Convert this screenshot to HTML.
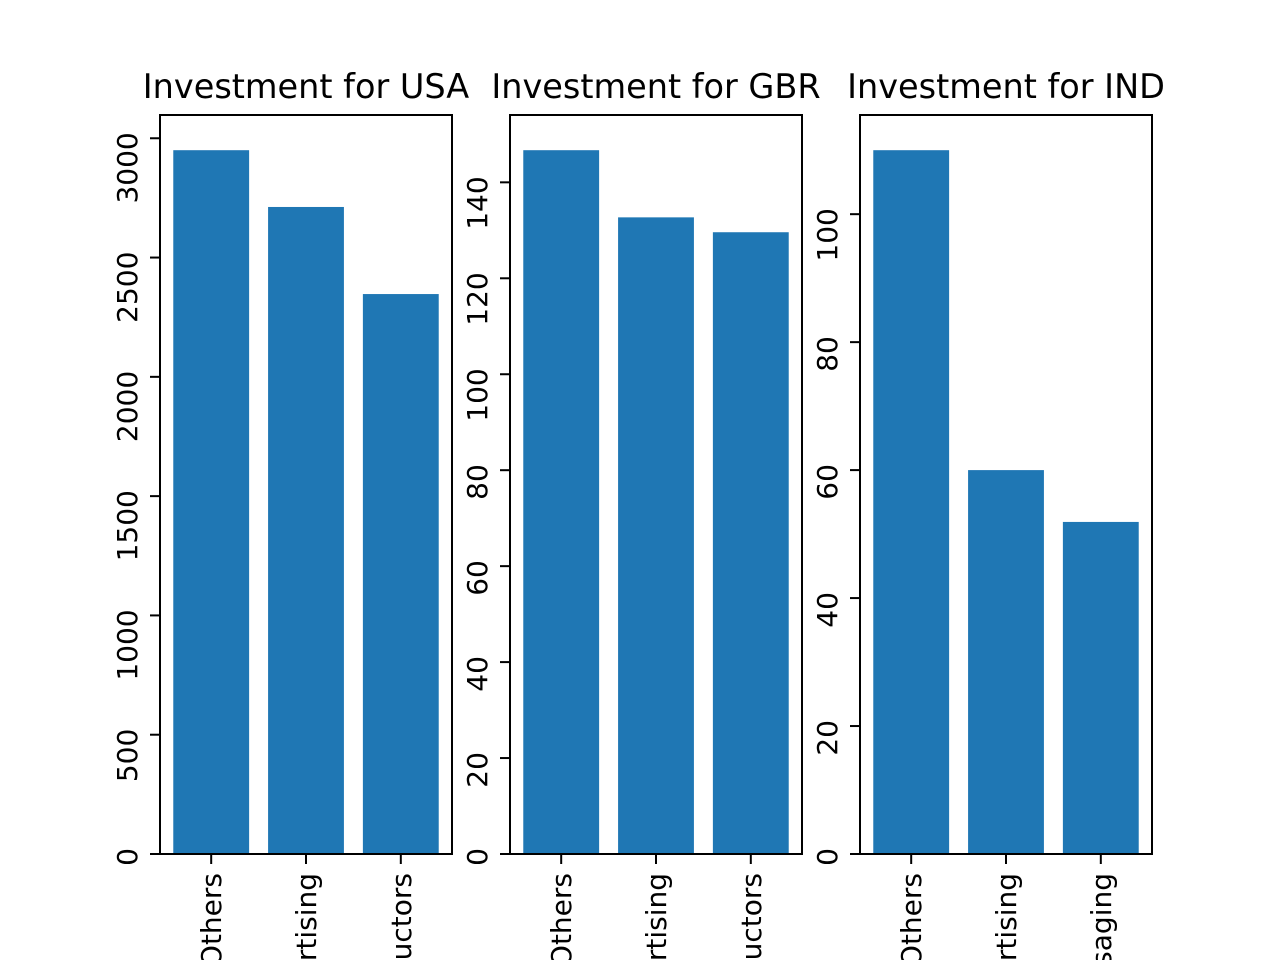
<!DOCTYPE html>
<html><head><meta charset="utf-8"><style>html,body{margin:0;background:#fff;overflow:hidden;width:1280px;height:960px}svg{display:block}</style></head>
<body>
<svg id="chart" width="1280" height="960" xmlns="http://www.w3.org/2000/svg" font-family="'DejaVu Sans','Liberation Sans',sans-serif"></svg>
<script>
const countries = ["USA", "GBR", "IND"];
const usaCategories = ["Others", "Advertising", "Semiconductors"];
const usaValues = [2950, 2712, 2347];
const usaTicks = [0, 500, 1000, 1500, 2000, 2500, 3000];
const gbrCategories = ["Others", "Advertising", "Semiconductors"];
const gbrValues = [146.7, 132.7, 129.6];
const gbrTicks = [0, 20, 40, 60, 80, 100, 120, 140];
const indCategories = ["Others", "Advertising", "Messaging"];
const indValues = [110, 60, 51.9];
const indTicks = [0, 20, 40, 60, 80, 100];

const svgEl = document.getElementById('chart');
const NS = 'http://www.w3.org/2000/svg';
function mk(tag, attrs, parent) { const e = document.createElementNS(NS, tag); for (const k in attrs) e.setAttribute(k, attrs[k]); parent.appendChild(e); return e; }

const panels = [
  {left:160, cats:usaCategories, vals:usaValues, ticks:usaTicks},
  {left:510, cats:gbrCategories, vals:gbrValues, ticks:gbrTicks},
  {left:860, cats:indCategories, vals:indValues, ticks:indTicks}
];
const plotTop = 115, plotBottom = 854, plotW = 292;
panels.forEach((p, pi) => {
  const g = mk('g', {}, svgEl);
  
  
  const ymax = Math.max(...p.vals) * 1.05;
  const y = v => plotBottom - v / ymax * (plotBottom - plotTop);
  const n = p.cats.length;
  const x0 = -0.4 - 0.05 * (n - 1 + 0.8), x1 = n - 1 + 0.4 + 0.05 * (n - 1 + 0.8);
  const x = v => p.left + (v - x0) / (x1 - x0) * plotW;
  const bw = 0.8 / (x1 - x0) * plotW;
  p.vals.forEach((v, i) => {
    const r = mk('rect', {x: x(i) - bw / 2, y: y(v), width: bw, height: plotBottom - y(v), fill: '#1f77b4'}, g);
    
    
    mk('line', {x1: x(i), x2: x(i), y1: plotBottom, y2: plotBottom + 10, stroke: '#000', 'stroke-width': 2}, g);
    const t = mk('text', {transform: `translate(${x(i) + 10},${plotBottom + 19}) rotate(-90)`, 'text-anchor': 'end', 'font-size': 28}, g);
    t.textContent = p.cats[i];
    
    
  });
  p.ticks.forEach(tv => {
    mk('line', {x1: p.left - 10, x2: p.left, y1: y(tv), y2: y(tv), stroke: '#000', 'stroke-width': 2}, g);
    const t = mk('text', {transform: `translate(${p.left - 23},${y(tv) - 6}) rotate(-90)`, 'text-anchor': 'end', 'font-size': 28}, g);
    t.textContent = tv;
    
    
  });
  const fr = mk('rect', {x: p.left, y: plotTop, width: plotW, height: plotBottom - plotTop, fill: 'none', stroke: '#000', 'stroke-width': 2}, g);
  
  
  const tt = mk('text', {x: p.left + plotW / 2, y: 98, 'text-anchor': 'middle', 'font-size': 33.5}, g);
  tt.textContent = 'Investment for ' + countries[pi];
  
  
});
</script>
</body></html>
